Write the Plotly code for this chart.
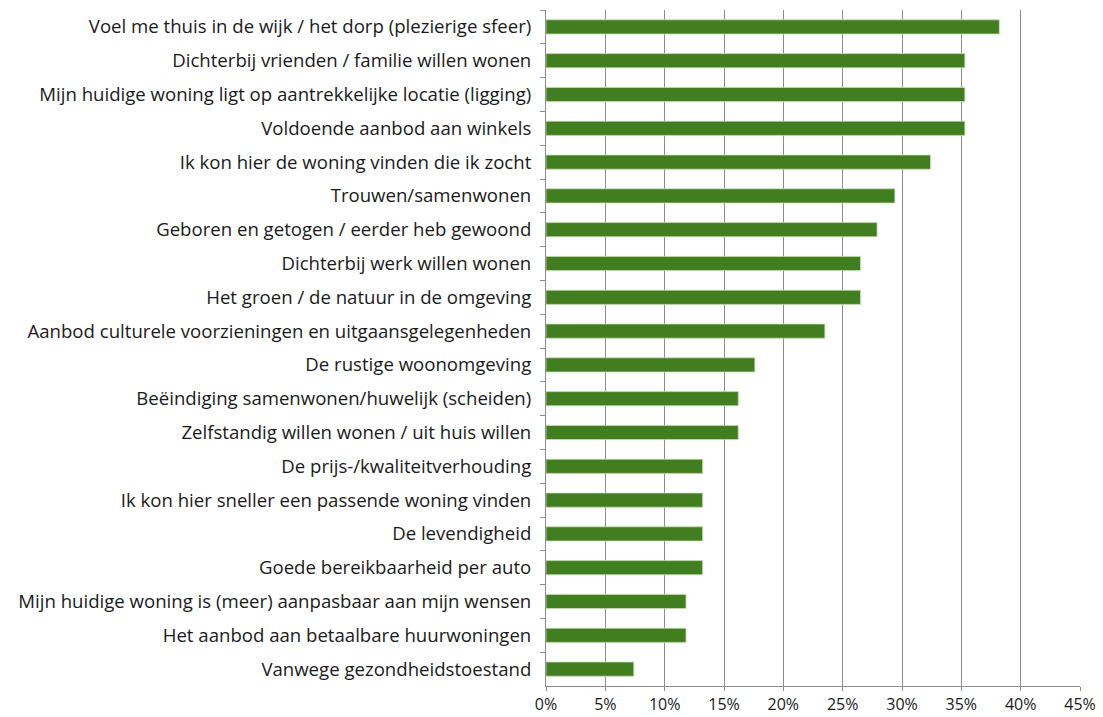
import plotly.graph_objects as go

categories = [
    "Voel me thuis in de wijk / het dorp (plezierige sfeer)",
    "Dichterbij vrienden / familie willen wonen",
    "Mijn huidige woning ligt op aantrekkelijke locatie (ligging)",
    "Voldoende aanbod aan winkels",
    "Ik kon hier de woning vinden die ik zocht",
    "Trouwen/samenwonen",
    "Geboren en getogen / eerder heb gewoond",
    "Dichterbij werk willen wonen",
    "Het groen / de natuur in de omgeving",
    "Aanbod culturele voorzieningen en uitgaansgelegenheden",
    "De rustige woonomgeving",
    "Beëindiging samenwonen/huwelijk (scheiden)",
    "Zelfstandig willen wonen / uit huis willen",
    "De prijs-/kwaliteitverhouding",
    "Ik kon hier sneller een passende woning vinden",
    "De levendigheid",
    "Goede bereikbaarheid per auto",
    "Mijn huidige woning is (meer) aanpasbaar aan mijn wensen",
    "Het aanbod aan betaalbare huurwoningen",
    "Vanwege gezondheidstoestand",
]
values = [38.2, 35.3, 35.3, 35.3, 32.4, 29.4, 27.9, 26.5, 26.5, 23.5,
          17.6, 16.2, 16.2, 13.2, 13.2, 13.2, 13.2, 11.8, 11.8, 7.4]
tick_vals = [0, 5, 10, 15, 20, 25, 30, 35, 40, 45]
tick_text = ["0%", "5%", "10%", "15%", "20%", "25%", "30%", "35%", "40%", "45%"]

fig = go.Figure(go.Bar(
    x=values,
    y=categories,
    orientation="h",
    width=0.42,
    marker=dict(color="#407E1F", line=dict(color="#C9DDB8", width=0.8)),
))

fig.update_layout(
    width=1095, height=709,
    margin=dict(l=538, r=23, t=2, b=31, autoexpand=False),
    paper_bgcolor="white", plot_bgcolor="white",
    font=dict(family="Open Sans, Liberation Sans, Arial, sans-serif", size=18.6, color="#1a1a1a"),
    showlegend=False,
)
fig.update_xaxes(
    range=[0, 45], tickvals=tick_vals, ticktext=tick_text,
    showgrid=True, gridcolor="#8C8C8C", gridwidth=1,
    showline=True, linecolor="#8C8C8C", linewidth=1,
    ticks="outside", ticklen=4, tickcolor="#8C8C8C",
    zeroline=False, tickfont=dict(size=16), automargin=False,
    ticklabelstandoff=0,
)
fig.update_yaxes(
    autorange="reversed", type="category",
    showgrid=False, showline=True, linecolor="#8C8C8C", linewidth=1,
    ticks="outside", ticklen=5, tickcolor="#8C8C8C", tickson="boundaries",
    tickfont=dict(size=18.6), ticklabelstandoff=10, automargin=False,
)

fig.write_html("out.html")
